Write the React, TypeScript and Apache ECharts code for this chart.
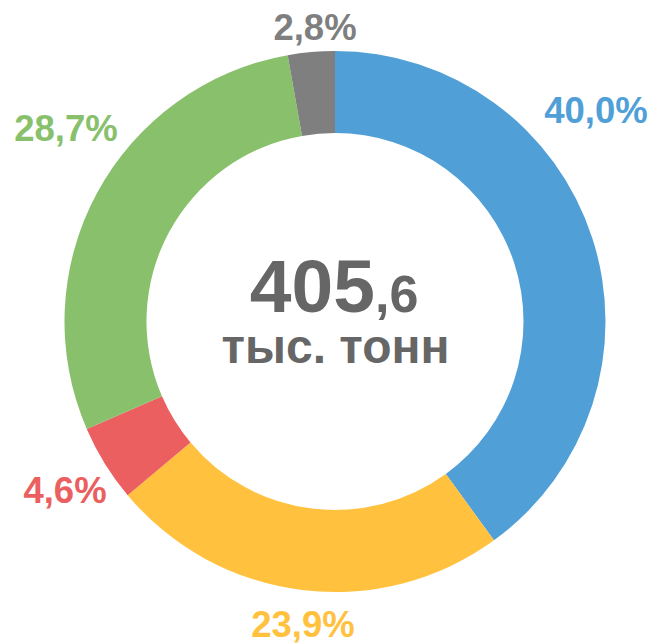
import React, { useEffect, useRef } from "react";
import * as echarts from "echarts";

const categories = ["A", "B", "C", "D", "E"];
const shares = [40.0, 23.9, 4.6, 28.7, 2.8];
const sliceColors = ["#519FD7", "#FFC13E", "#EB5F60", "#88C06C", "#7F7F7F"];
const totalWhole = "405";
const totalFraction = ",6";
const unitLabel = "тыс. тонн";

// label anchor positions (layout, not data)
const labelPos: [number, number][] = [
  [596, 110],
  [303, 624],
  [65, 490],
  [66, 128],
  [315, 27],
];

const fmt = (v: number) => v.toFixed(1).replace(".", ",") + "%";

export default function App() {
  const ref = useRef<HTMLDivElement>(null);
  useEffect(() => {
    if (!ref.current) return;
    const chart = echarts.init(ref.current, null, { renderer: "svg" });
    const font = "'Liberation Sans', Arial, sans-serif";
    chart.setOption({
      animation: false,
      backgroundColor: "#ffffff",
      series: [
        {
          type: "pie",
          center: [335, 321.5],
          radius: [188.5, 270.5],
          startAngle: 90,
          clockwise: true,
          silent: true,
          avoidLabelOverlap: false,
          data: categories.map((c, i) => ({
            name: c,
            value: shares[i],
            itemStyle: { color: sliceColors[i] },
            label: { color: sliceColors[i] },
          })),
          label: {
            show: true,
            position: "outside",
            overflow: "none",
            formatter: (p: any) => fmt(p.value),
            fontFamily: font,
            fontWeight: "bold",
            fontSize: 36.5,
          },
          labelLine: { show: false },
          labelLayout: (p: any) => ({
            x: labelPos[p.dataIndex][0],
            y: labelPos[p.dataIndex][1],
            align: "center",
            verticalAlign: "middle",
            hideOverlap: false,
          }),
        },
      ],
      graphic: [
        {
          type: "text",
          x: 375,
          y: 286,
          style: {
            text: totalWhole,
            fontFamily: font,
            fontWeight: "bold",
            fontSize: 75,
            fill: "#666666",
            align: "right",
            verticalAlign: "middle",
          },
        },
        {
          type: "text",
          x: 375,
          y: 294,
          style: {
            text: totalFraction,
            fontFamily: font,
            fontWeight: "bold",
            fontSize: 52,
            fill: "#666666",
            align: "left",
            verticalAlign: "middle",
          },
        },
        {
          type: "text",
          x: 335.5,
          y: 346.5,
          style: {
            text: unitLabel,
            fontFamily: font,
            fontWeight: "bold",
            fontSize: 48,
            fill: "#666666",
            align: "center",
            verticalAlign: "middle",
          },
        },
      ],
    });
    return () => chart.dispose();
  }, []);
  return (
    <div
      ref={ref}
      style={{ position: "fixed", left: 0, top: 0, width: 656, height: 643 }}
    />
  );
}
